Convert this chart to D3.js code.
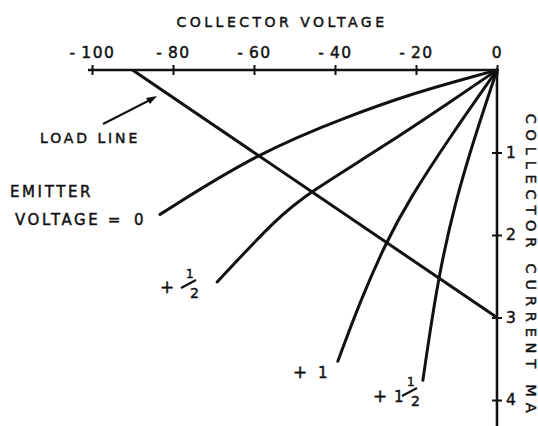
<!DOCTYPE html>
<html>
<head>
<meta charset="utf-8">
<script src="https://cdn.jsdelivr.net/npm/d3@7"></script>
<style>
  body { margin: 0; background: #fff; }
  svg { display: block; font-family: "DejaVu Sans", sans-serif; }
  text { stroke: #111; stroke-width: 0.45px; }
</style>
</head>
<body>
<svg id="chart" width="538" height="426"></svg>
<script>
// axis ticks
const xTicks = [-100, -80, -60, -40, -20, 0];
const yTicks = [1, 2, 3, 4];

// load line: collector voltage (V), collector current (mA)
const loadVolts = [-90, 0];
const loadAmps = [0, 3];

// characteristic curves, one per emitter voltage
const e0Volts = [0, -7.4, -19.8, -36.3, -59.3, -83.2];
const e0Amps = [0, 0.10, 0.27, 0.55, 1.01, 1.75];
const eHalfVolts = [0, -11.6, -28.1, -46.2, -54.3, -69.1];
const eHalfAmps = [0, 0.39, 0.93, 1.48, 1.79, 2.57];
const e1Volts = [0, -11.6, -21.8, -27.3, -33.7, -39.3];
const e1Amps = [0, 0.81, 1.58, 2.08, 2.79, 3.53];
const e1HalfVolts = [0, -5.5, -10.2, -14.6, -18.3];
const e1HalfAmps = [0, 0.81, 1.58, 2.52, 3.76];

const svg = d3.select("#chart");

const x = d3.scaleLinear().domain([-100, 0]).range([92, 497]);
const y = d3.scaleLinear().domain([0, 4]).range([70, 400]);

const ink = "#111";

// x axis along the top
const xAxis = svg.append("g")
    .attr("transform", `translate(0,${y(0)})`)
    .call(d3.axisTop(x).tickValues(xTicks).tickSize(5).tickSizeOuter(0)
        .tickFormat(d => d === 0 ? "0" : "-\u2009" + (-d)));
xAxis.select(".domain").attr("d", `M${x(-101)},0H${x(0)}`)
    .attr("stroke", ink).attr("stroke-width", 2.6);
xAxis.selectAll(".tick line").attr("y1", 5).attr("stroke", ink).attr("stroke-width", 2);
xAxis.selectAll(".tick text")
    .attr("y", -12)
    .attr("fill", ink)
    .attr("font-size", 15.5)
    .attr("font-family", "DejaVu Sans")
    .attr("letter-spacing", 1.5);

// y axis along the right side
const yAxis = svg.append("g")
    .attr("transform", `translate(${x(0)},0)`)
    .call(d3.axisRight(y).tickValues(yTicks).tickSize(5).tickSizeOuter(0)
        .tickFormat(d3.format("d")));
yAxis.select(".domain").attr("d", `M0,${y(0)}V426`)
    .attr("stroke", ink).attr("stroke-width", 2.6);
yAxis.selectAll(".tick line").attr("x1", -5).attr("stroke", ink).attr("stroke-width", 2);
yAxis.selectAll(".tick text")
    .attr("x", 9)
    .attr("fill", ink)
    .attr("font-size", 15.5)
    .attr("font-family", "DejaVu Sans");

// axis titles
svg.append("text")
    .attr("x", 282).attr("y", 27)
    .attr("text-anchor", "middle")
    .attr("font-size", 14)
    .attr("letter-spacing", 3.5)
    .attr("fill", ink)
    .text("COLLECTOR  VOLTAGE");

svg.append("text")
    .attr("transform", "translate(526,266) rotate(90)")
    .attr("text-anchor", "middle")
    .attr("font-size", 14.5)
    .attr("letter-spacing", 5.8)
    .attr("fill", ink)
    .text("COLLECTOR  CURRENT  MA");

// lines
const line = d3.line().x(d => x(d[0])).y(d => y(d[1]));
const curve = d3.line().x(d => x(d[0])).y(d => y(d[1])).curve(d3.curveBasis);

svg.append("path")
    .datum(d3.zip(loadVolts, loadAmps))
    .attr("d", line)
    .attr("fill", "none").attr("stroke", ink).attr("stroke-width", 3);

const curves = [
    d3.zip(e0Volts, e0Amps),
    d3.zip(eHalfVolts, eHalfAmps),
    d3.zip(e1Volts, e1Amps),
    d3.zip(e1HalfVolts, e1HalfAmps)
];
svg.selectAll(".curve")
    .data(curves)
    .join("path")
    .attr("class", "curve")
    .attr("d", curve)
    .attr("fill", "none").attr("stroke", ink).attr("stroke-width", 3)
    .attr("stroke-linecap", "round");

// annotations
function label(tx, ty, s, size, spacing) {
    return svg.append("text")
        .attr("x", tx).attr("y", ty)
        .attr("font-size", size || 14)
        .attr("letter-spacing", spacing == null ? 2.6 : spacing)
        .attr("fill", ink)
        .text(s);
}
function half(tx, ty) {
    label(tx, ty - 8, "1", 12, 0);
    svg.append("line")
        .attr("x1", tx - 5).attr("y1", ty + 2)
        .attr("x2", tx + 10).attr("y2", ty - 6)
        .attr("stroke", ink).attr("stroke-width", 2);
    label(tx + 4, ty + 12, "2", 14, 0);
}

label(40, 143, "LOAD LINE", 14, 2.9);
svg.append("line")
    .attr("x1", 103).attr("y1", 124).attr("x2", 150).attr("y2", 100)
    .attr("stroke", ink).attr("stroke-width", 2);
svg.append("path")
    .attr("d", "M157,96L146,98L150,104Z")
    .attr("fill", ink);

label(10, 197, "EMITTER", 15);
label(15, 225, "VOLTAGE =", 15);
label(134, 225, "0", 15);

label(160, 293, "+", 17, 0);
half(186, 286);

label(293, 378, "+", 17, 0);
label(318, 378, "1", 15, 0);

label(373, 402, "+", 17, 0);
label(394, 402, "1", 15, 0);
half(407, 394);
</script>
</body>
</html>
